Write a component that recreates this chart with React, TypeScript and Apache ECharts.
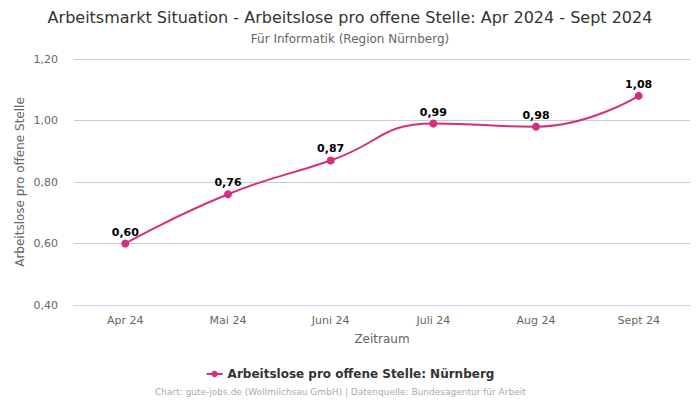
import React, { useEffect, useRef } from "react";
import * as echarts from "echarts";

const categories = ["Apr 24", "Mai 24", "Juni 24", "Juli 24", "Aug 24", "Sept 24"];
const values = [0.6, 0.76, 0.87, 0.99, 0.98, 1.08];
const seriesName = "Arbeitslose pro offene Stelle: Nürnberg";

const fmt = (v: number) => v.toFixed(2).replace(".", ",");

export default function App() {
  const ref = useRef<HTMLDivElement>(null);
  useEffect(() => {
    const chart = echarts.init(ref.current!, null, { renderer: "svg" });
    chart.setOption({
      animation: false,
      textStyle: { fontFamily: "DejaVu Sans" },
      title: {
        text: "Arbeitsmarkt Situation - Arbeitslose pro offene Stelle: Apr 2024 - Sept 2024",
        subtext: "Für Informatik (Region Nürnberg)",
        left: "center",
        top: 4,
        itemGap: 8,
        textStyle: { fontSize: 16, fontWeight: "normal", color: "#333", fontFamily: "DejaVu Sans" },
        subtextStyle: { fontSize: 12, color: "#666", fontFamily: "DejaVu Sans" },
      },
      grid: { left: 74, right: 10, top: 59, bottom: 95 },
      xAxis: {
        type: "category",
        data: categories,
        name: "Zeitraum",
        nameLocation: "middle",
        nameGap: 28,
        nameTextStyle: { fontSize: 12, color: "#666" },
        axisLine: { lineStyle: { color: "#ccd6eb" } },
        axisTick: { show: false },
        axisLabel: { color: "#666", fontSize: 11, margin: 10 },
      },
      yAxis: {
        type: "value",
        min: 0.4,
        max: 1.2,
        interval: 0.2,
        name: "Arbeitslose pro offene Stelle",
        nameLocation: "middle",
        nameGap: 48,
        nameMoveOverlap: false,
        nameTextStyle: { fontSize: 12, color: "#666" },
        axisLabel: { color: "#666", fontSize: 11, margin: 16, formatter: (v: number) => fmt(v) },
        splitLine: { lineStyle: { color: "#ccc" } },
      },
      legend: {
        bottom: 15,
        left: "center",
        itemWidth: 16,
        itemHeight: 8,
        textStyle: { fontSize: 12, fontWeight: "bold", color: "#333" },
        data: [seriesName],
      },
      graphic: [
        {
          type: "text",
          left: 155,
          top: 387,
          style: {
            text: "Chart: gute-jobs.de (Wollmilchsau GmbH) | Datenquelle: Bundesagentur für Arbeit",
            fill: "#aaa",
            fontSize: 9,
            fontFamily: "DejaVu Sans",
          },
        },
      ],
      series: [
        {
          name: seriesName,
          type: "line",
          data: values,
          smooth: true,
          symbol: "circle",
          symbolSize: 8,
          itemStyle: { color: "#d42f7b" },
          lineStyle: { width: 2, color: "#d42f7b" },
          label: {
            show: true,
            position: "top",
            distance: 2,
            fontSize: 11,
            fontWeight: "bold",
            color: "#000",
            formatter: (p: any) => fmt(p.value),
          },
        },
      ],
    });
    return () => chart.dispose();
  }, []);
  return (
    <div
      ref={ref}
      style={{ position: "absolute", left: 0, top: 0, width: 700, height: 400 }}
    />
  );
}
